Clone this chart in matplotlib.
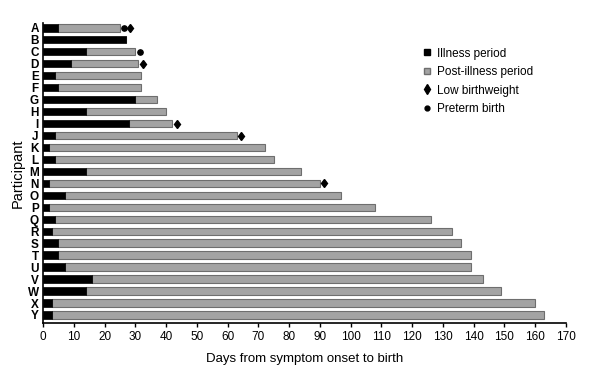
import matplotlib
matplotlib.use("Agg")
import matplotlib.pyplot as plt
from matplotlib.lines import Line2D

plt.rcParams["font.family"] = ["Liberation Sans", "DejaVu Sans"]

# participants, top to bottom
participants = list("ABCDEFGHIJKLMNOPQRSTUVWXY")
# days of illness (black part)
illness_days = [5, 27, 14, 9, 4, 5, 30, 14, 28, 4, 2, 4, 14, 2, 7, 2, 4, 3, 5, 5, 7, 16, 14, 3, 3]
# total days from symptom onset to birth
total_days = [25, 27, 30, 31, 32, 32, 37, 40, 42, 63, 72, 75, 84, 90, 97, 108,
              126, 133, 136, 139, 139, 143, 149, 160, 163]
# outcome flags
preterm = ["A", "C"]
low_bw = ["A", "D", "I", "J", "N"]

BLACK = "#000000"
GREY = "#a3a3a3"
EDGE = "#6e6e6e"

fig = plt.figure(figsize=(6, 3.8), dpi=100)
ax = fig.add_axes([0.0717, 0.15, 0.8716, 0.79])

y = list(range(len(participants)))
post_days = [t - i for t, i in zip(total_days, illness_days)]

ax.barh(y, post_days, left=illness_days, height=0.62, color=GREY,
        edgecolor=EDGE, linewidth=0.8)
ax.barh(y, illness_days, height=0.62, color=BLACK, edgecolor=BLACK, linewidth=0.5)

# outcome markers just past the end of each bar
for k, p in enumerate(participants):
    off = 1.4
    if p in preterm:
        ax.plot(total_days[k] + off, k, marker="o", color=BLACK, markersize=3.8)
        off += 2.0
    if p in low_bw:
        ax.plot(total_days[k] + off, k, marker="d", color=BLACK, markersize=4.4)

ax.set_xlim(0, 170)
ax.set_ylim(24.67, -0.42)
ax.set_xticks(range(0, 171, 10))
ax.set_yticks(y)
ax.set_yticklabels(participants, fontsize=8.5, fontweight="bold")
ax.tick_params(axis="y", length=0, pad=3)
ax.tick_params(axis="x", direction="out", length=3, width=1, labelsize=8.5, pad=3)

for s in ["top", "right"]:
    ax.spines[s].set_visible(False)
for s in ["left", "bottom"]:
    ax.spines[s].set_linewidth(1.2)

ax.set_xlabel("Days from symptom onset to birth", fontsize=9.5, labelpad=7)
ax.set_ylabel("Participant", fontsize=10.5, labelpad=2)

handles = [
    Line2D([], [], marker="s", linestyle="", color=BLACK, markersize=5),
    Line2D([], [], marker="s", linestyle="", markerfacecolor=GREY,
           markeredgecolor=EDGE, markersize=5),
    Line2D([], [], marker="d", linestyle="", color=BLACK, markersize=5),
    Line2D([], [], marker="o", linestyle="", color=BLACK, markersize=3.5),
]
labels = ["Illness period", "Post-illness period", "Low birthweight", "Preterm birth"]
ax.legend(handles, labels, loc="upper left", bbox_to_anchor=(0.71, 0.945),
          frameon=False, fontsize=8.5, handlelength=0.8, handletextpad=0.4,
          labelspacing=0.55, borderpad=0.2)

fig.savefig("out.png", dpi=100)
plt.close(fig)
